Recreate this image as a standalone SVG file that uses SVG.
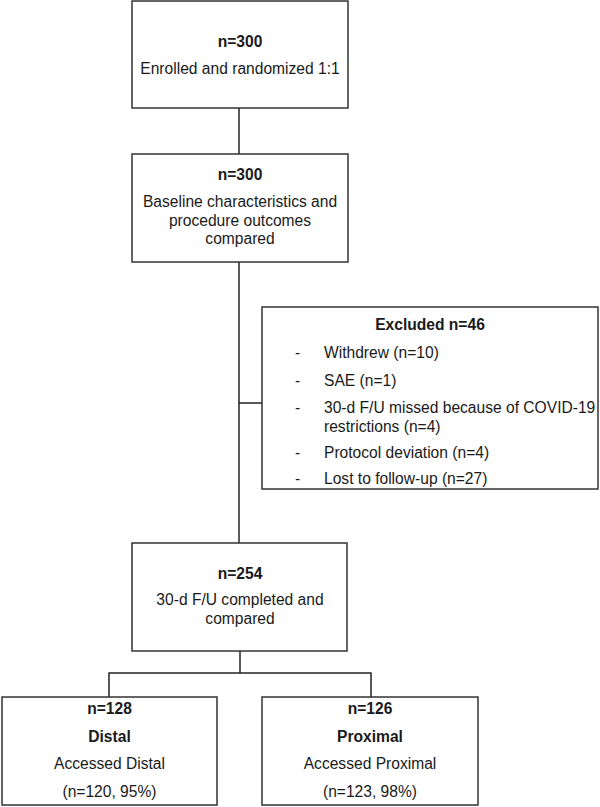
<svg xmlns="http://www.w3.org/2000/svg" width="600" height="807" viewBox="0 0 600 807">
<style>
.box{fill:#fff;stroke:#333;stroke-width:1.5}
.ln{fill:none;stroke:#222;stroke-width:1.5}
text{font-family:"Liberation Sans",Arial,sans-serif;font-size:15.6px;fill:#1a1a1a}
.c{text-anchor:middle}
.b{font-weight:bold}
</style>
<rect width="600" height="807" fill="#fff"/>
<g id="connectors">
<path class="ln" d="M239,108 V154"/>
<path class="ln" d="M239,262 V543"/>
<path class="ln" d="M239,403 H262"/>
<path class="ln" d="M240,651 V673 M109,697 V673 H371 V697"/>
</g>
<g id="enrolled">
<rect class="box" x="132" y="1" width="216" height="107"/>
<text class="c b" x="240" y="47">n=300</text>
<text class="c" x="240" y="74">Enrolled and randomized 1:1</text>
</g>
<g id="baseline">
<rect class="box" x="132" y="154" width="216" height="108"/>
<text class="c b" x="240" y="180">n=300</text>
<text class="c" x="240" y="207">Baseline characteristics and</text>
<text class="c" x="240" y="226">procedure outcomes</text>
<text class="c" x="240" y="244">compared</text>
</g>
<g id="excluded">
<rect class="box" x="262" y="307" width="336" height="182"/>
<text class="c b" x="430" y="330">Excluded n=46</text>
<text x="295" y="358">-</text><text x="324" y="358">Withdrew (n=10)</text>
<text x="295" y="386">-</text><text x="324" y="386">SAE (n=1)</text>
<text x="295" y="413">-</text><text x="324" y="413">30-d F/U missed because of COVID-19</text>
<text x="324" y="432">restrictions (n=4)</text>
<text x="295" y="458">-</text><text x="324" y="458">Protocol deviation (n=4)</text>
<text x="295" y="484">-</text><text x="324" y="484">Lost to follow-up (n=27)</text>
</g>
<g id="followup">
<rect class="box" x="132" y="543" width="215" height="108"/>
<text class="c b" x="240" y="579">n=254</text>
<text class="c" x="240" y="605">30-d F/U completed and</text>
<text class="c" x="240" y="624">compared</text>
</g>
<g id="distal">
<rect class="box" x="2" y="697" width="215" height="108"/>
<text class="c b" x="109.5" y="714">n=128</text>
<text class="c b" x="109.5" y="742">Distal</text>
<text class="c" x="109.5" y="769">Accessed Distal</text>
<text class="c" x="109.5" y="797">(n=120, 95%)</text>
</g>
<g id="proximal">
<rect class="box" x="262" y="697" width="216" height="108"/>
<text class="c b" x="370" y="714">n=126</text>
<text class="c b" x="370" y="742">Proximal</text>
<text class="c" x="370" y="769">Accessed Proximal</text>
<text class="c" x="370" y="797">(n=123, 98%)</text>
</g>
</svg>
